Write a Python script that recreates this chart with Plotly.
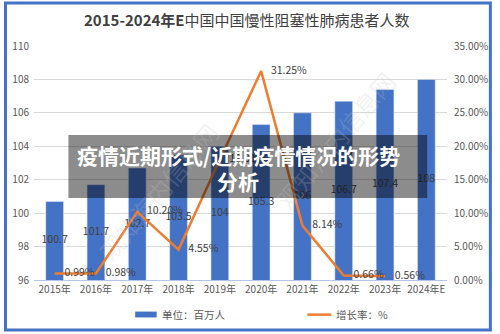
import plotly.graph_objects as go

categories = ["2015年", "2016年", "2017年", "2018年", "2019年", "2020年", "2021年", "2022年", "2023年", "2024年E"]
patients = [100.7, 101.7, 102.7, 103.5, 104, 105.3, 106, 106.7, 107.4, 108]
growth_cats = categories[:9]
growth_pct = [0.99, 0.98, 10.20, 4.55, 18.01, 31.25, 8.14, 0.66, 0.56]

BLUE = "#4472C4"
ORANGE = "#ED7D31"
TXT = "#404040"
FONT = "Noto Sans CJK SC"
Y_MIN, Y_MAX = 96, 110

fig = go.Figure()
fig.add_trace(go.Bar(x=categories, y=patients, marker_color=BLUE, width=0.43,
                     hoverinfo="skip", showlegend=False))
# bar value labels centred in each bar
fig.add_trace(go.Scatter(x=categories, y=[(Y_MIN + v) / 2 for v in patients],
                         mode="text", text=[f"{v:g}" for v in patients],
                         textfont=dict(size=10.5, color=TXT, family=FONT),
                         showlegend=False, hoverinfo="skip"))
fig.add_trace(go.Scatter(x=growth_cats, y=[g / 100 for g in growth_pct], yaxis="y2",
                         mode="lines+markers+text",
                         line=dict(color=ORANGE, width=2.5),
                         marker=dict(size=14, color="rgba(0,0,0,0)"),
                         text=[f"{g:.2f}%" for g in growth_pct],
                         textposition="middle right",
                         textfont=dict(size=10.5, color=TXT, family=FONT),
                         showlegend=False, hoverinfo="skip"))

fig.update_layout(
    width=500, height=334,
    margin=dict(l=32, r=48, t=46, b=54),
    paper_bgcolor="white", plot_bgcolor="white",
    font=dict(family=FONT, color="#595959", size=10),
    bargap=0.57,
    xaxis=dict(range=[-0.5, 9.5], showline=True, linecolor="#b4c6e7", linewidth=1,
               ticks="", tickfont=dict(size=10, color="#595959"), showgrid=False),
    yaxis=dict(range=[Y_MIN, Y_MAX], dtick=2, gridcolor="#d9d9d9", gridwidth=1,
               zeroline=False, showline=False, ticks="",
               tickfont=dict(size=10, color="#595959"), ticklabelstandoff=4),
    yaxis2=dict(range=[0, 0.35], dtick=0.05, tickformat=".2%", overlaying="y",
                side="right", showgrid=False, zeroline=False, showline=False,
                ticks="", tickfont=dict(size=10, color="#595959"), ticklabelstandoff=6),
)

# title
fig.add_annotation(xref="paper", yref="paper", x=0.515, y=1.115, yanchor="middle",
                   showarrow=False,
                   text="<b>2015-2024年E</b>中国中国慢性阻塞性肺病患者人数",
                   font=dict(size=15, color=TXT, family=FONT))

# custom legend
fig.add_shape(type="rect", xref="paper", yref="paper", x0=0.245, x1=0.297,
              y0=-0.135, y1=-0.16, fillcolor=BLUE, line_width=0)
fig.add_annotation(xref="paper", yref="paper", x=0.305, y=-0.148, xanchor="left",
                   yanchor="middle", showarrow=False, text="单位：百万人",
                   font=dict(size=10.5, color="#595959", family=FONT))
fig.add_shape(type="line", xref="paper", yref="paper", x0=0.662, x1=0.72,
              y0=-0.148, y1=-0.148, line=dict(color=ORANGE, width=2.5))
fig.add_annotation(xref="paper", yref="paper", x=0.727, y=-0.148, xanchor="left",
                   yanchor="middle", showarrow=False, text="增长率：%",
                   font=dict(size=10.5, color="#595959", family=FONT))

# faint diagonal watermarks
for wx, wy in [(0.13, 0.38), (0.9, 0.6)]:
    fig.add_annotation(xref="paper", yref="paper", x=wx, y=wy, showarrow=False,
                       text="观知海内信息网", textangle=-50,
                       font=dict(size=24, color="rgba(200,200,200,0.22)", family=FONT))

# outer frame
fig.add_shape(type="rect", xref="paper", yref="paper", x0=-0.069, x1=1.105,
              y0=-0.2137, y1=1.1838, line=dict(color=BLUE, width=3), layer="above")

# dark overlay band with headline text
fig.add_shape(type="rect", xref="paper", yref="paper", x0=0.0833, x1=0.952,
              y0=0.3504, y1=0.6197, fillcolor="rgba(0,0,0,0.45)", line_width=0,
              layer="above")
fig.add_annotation(xref="paper", yref="paper", x=0.495, y=0.534, showarrow=False,
                   text="<b>疫情近期形式/近期疫情情况的形势</b>",
                   font=dict(size=21, color="white", family=FONT))
fig.add_annotation(xref="paper", yref="paper", x=0.495, y=0.425, showarrow=False,
                   text="<b>分析</b>",
                   font=dict(size=21, color="white", family=FONT))

fig.write_html("out.html")
